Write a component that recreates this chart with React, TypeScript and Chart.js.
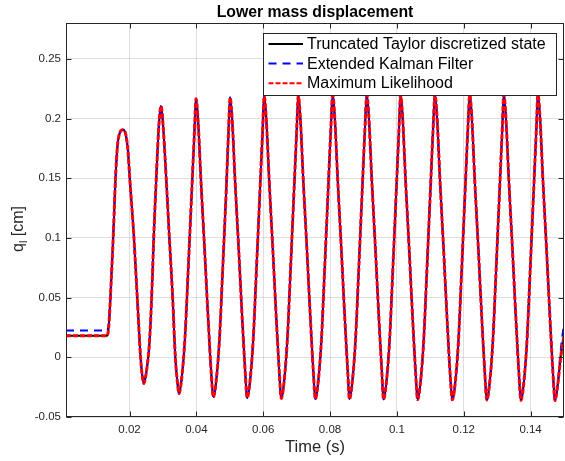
import React, { useEffect, useRef } from "react";
import { Chart, registerables } from "chart.js";

Chart.register(...registerables);

const FONT = "'Liberation Sans', Arial, Helvetica, sans-serif";

const chartTitle = "Lower mass displacement";
const xAxisTitle = "Time (s)";
const yAxisMain = "q";
const yAxisSub = "l";
const yAxisUnit = " [cm]";

const seriesLabels = [
  "Truncated Taylor discretized state",
  "Extended Kalman Filter",
  "Maximum Likelihood",
];

const xTicks = [0.02, 0.04, 0.06, 0.08, 0.1, 0.12, 0.14];
const xTickLabels = ["0.02", "0.04", "0.06", "0.08", "0.1", "0.12", "0.14"];
const yTicks = [-0.05, 0, 0.05, 0.1, 0.15, 0.2, 0.25];
const yTickLabels = ["-0.05", "0", "0.05", "0.1", "0.15", "0.2", "0.25"];

// time samples (s) and true state (cm)
const timeS = [
  0.001, 0.0133, 0.0136, 0.0139, 0.0143, 0.01514, 0.0158, 0.0164, 0.0171, 0.018, 0.0188, 0.0195, 0.0201, 0.0213, 0.0223, 0.0233, 0.0238, 0.0243,
  0.0248, 0.0253, 0.0258, 0.0263, 0.0268, 0.0273, 0.028, 0.0288, 0.02945,
  0.03, 0.031, 0.0319, 0.0329, 0.0337, 0.0343, 0.0348,
  0.0356, 0.0366, 0.0376, 0.0386, 0.0394, 0.0399,
  0.0405, 0.0414, 0.04245, 0.0435, 0.0444, 0.0451,
  0.0459, 0.0469, 0.0479, 0.0489, 0.0496, 0.0501,
  0.0507, 0.0516, 0.05265, 0.0537, 0.0546, 0.0552,
  0.056, 0.057, 0.058, 0.059, 0.0598, 0.0603,
  0.0609, 0.0618, 0.06285, 0.0639, 0.0648, 0.0654,
  0.0662, 0.0672, 0.0682, 0.0692, 0.07, 0.0705,
  0.0711, 0.072, 0.07305, 0.0741, 0.075, 0.0756,
  0.0764, 0.0774, 0.0784, 0.0794, 0.0802, 0.0808,
  0.0814, 0.0823, 0.08335, 0.0844, 0.0853, 0.0858,
  0.0866, 0.0876, 0.0886, 0.0896, 0.0904, 0.091,
  0.0916, 0.0925, 0.09355, 0.0946, 0.0955, 0.096,
  0.0968, 0.0978, 0.0988, 0.0998, 0.1006, 0.1011,
  0.1017, 0.1026, 0.10365, 0.1047, 0.1056, 0.1062,
  0.107, 0.108, 0.109, 0.11, 0.1108, 0.1114,
  0.112, 0.1129, 0.11395, 0.115, 0.1159, 0.1166,
  0.1174, 0.1184, 0.1194, 0.1204, 0.1212, 0.1218,
  0.1224, 0.1233, 0.12435, 0.1254, 0.1263, 0.1269,
  0.1277, 0.1287, 0.1297, 0.1307, 0.1315, 0.132,
  0.1326, 0.1335, 0.13455, 0.1356, 0.1365, 0.1371,
  0.1379, 0.1389, 0.1399, 0.1409, 0.1417, 0.1422,
  0.1428, 0.1437, 0.14475, 0.1458, 0.1467, 0.1473,
  0.1481, 0.1491, 0.15,
];

const truthCm = [
  0.018, 0.018, 0.021, 0.03, 0.051, 0.1015, 0.149, 0.177, 0.188, 0.1905, 0.1875, 0.174, 0.149, 0.1015, 0.051, 0.0005, -0.015, -0.0219,
  -0.0165, -0.007, 0.006, 0.029, 0.063, 0.104, 0.149, 0.195, 0.2105,
  0.196, 0.149, 0.1015, 0.051, 0.0005, -0.02, -0.0303,
  -0.018, 0.0166, 0.0758, 0.1375, 0.187, 0.2165,
  0.199, 0.1466, 0.0916, 0.0342, -0.0107, -0.0332,
  -0.0207, 0.0144, 0.0746, 0.1373, 0.1874, 0.2175,
  0.1999, 0.1471, 0.0918, 0.0339, -0.0114, -0.034,
  -0.0214, 0.014, 0.0746, 0.1377, 0.1882, 0.2185,
  0.2008, 0.1477, 0.092, 0.0338, -0.0117, -0.0345,
  -0.0218, 0.0137, 0.0745, 0.1379, 0.1886, 0.219,
  0.2012, 0.1479, 0.0921, 0.0337, -0.012, -0.0348,
  -0.022, 0.0135, 0.0745, 0.1381, 0.1889, 0.2194,
  0.2016, 0.1482, 0.0922, 0.0337, -0.0121, -0.035,
  -0.0223, 0.0134, 0.0744, 0.1381, 0.189, 0.2195,
  0.2017, 0.1482, 0.0922, 0.0336, -0.0123, -0.0352,
  -0.0225, 0.0132, 0.0744, 0.1381, 0.189, 0.2196,
  0.2018, 0.1482, 0.0921, 0.0335, -0.0125, -0.0354,
  -0.0226, 0.0131, 0.0743, 0.1381, 0.1891, 0.2197,
  0.2018, 0.1482, 0.0921, 0.0333, -0.0126, -0.0356,
  -0.0228, 0.0129, 0.0742, 0.1381, 0.1892, 0.2198,
  0.2019, 0.1482, 0.092, 0.0332, -0.0128, -0.0358,
  -0.023, 0.0128, 0.0741, 0.138, 0.1891, 0.2198,
  0.2019, 0.1482, 0.0919, 0.0331, -0.013, -0.036,
  -0.0232, 0.0126, 0.074, 0.138, 0.1892, 0.2199,
  0.202, 0.1482, 0.0919, 0.033, -0.0132, -0.0362,
  -0.0235, 0.002, 0.018,
];

// EKF estimate differs from the true state at the start and at the end
const ekfHeadT = [0.001, 0.0133, 0.0136];
const ekfHeadCm = [0.0225, 0.0225, 0.025];
const ekfTailT = [0.1491, 0.15];
const ekfTailCm = [0.008, 0.028];

type Pt = { x: number; y: number };

function toPoints(ts: number[], qs: number[]): Pt[] {
  return ts.map((t, i) => ({ x: t, y: qs[i] }));
}

const AXIS_COLOR = "#262626";
const GRID_COLOR = "rgba(38,38,38,0.15)";

const framePlugin = {
  id: "matlabFrame",
  afterDatasetsDraw(chart: any) {
    const { ctx, chartArea, scales } = chart;
    const { left, right, top, bottom } = chartArea;
    const xs = scales.x;
    const ys = scales.y;
    ctx.save();
    ctx.strokeStyle = AXIS_COLOR;
    ctx.lineWidth = 1;
    ctx.setLineDash([]);
    const L = Math.round(left) + 0.5;
    const R = Math.round(right) - 0.5;
    const T = Math.round(top) + 0.5;
    const B = Math.round(bottom) - 0.5;
    ctx.beginPath();
    xTicks.forEach((v) => {
      const px = Math.round(xs.getPixelForValue(v)) + 0.5;
      ctx.moveTo(px, B);
      ctx.lineTo(px, B - 5);
      ctx.moveTo(px, T);
      ctx.lineTo(px, T + 5);
    });
    yTicks.forEach((v) => {
      const py = Math.round(ys.getPixelForValue(v)) + 0.5;
      ctx.moveTo(L, py);
      ctx.lineTo(L + 5, py);
      ctx.moveTo(R, py);
      ctx.lineTo(R - 5, py);
    });
    ctx.stroke();
    ctx.strokeRect(L, T, R - L, B - T);
    ctx.restore();
  },
};

const textPlugin = {
  id: "matlabText",
  afterDraw(chart: any) {
    const { ctx, chartArea } = chart;
    const { left, right, top, bottom } = chartArea;
    ctx.save();
    // title
    ctx.fillStyle = "#000000";
    ctx.font = `bold 15.8px ${FONT}`;
    ctx.textAlign = "center";
    ctx.textBaseline = "middle";
    ctx.fillText(chartTitle, (left + right) / 2, top - 10.5);

    // y axis label with subscript
    const cx = 18;
    const cy = (top + bottom) / 2 + 9;
    ctx.translate(cx, cy);
    ctx.rotate(-Math.PI / 2);
    const mainFont = `16px ${FONT}`;
    const subFont = `11px ${FONT}`;
    ctx.font = mainFont;
    const wq = ctx.measureText(yAxisMain).width;
    const wu = ctx.measureText(yAxisUnit).width;
    ctx.font = subFont;
    const wl = ctx.measureText(yAxisSub).width;
    const total = wq + wl + wu;
    let x0 = -total / 2;
    ctx.textAlign = "left";
    ctx.textBaseline = "alphabetic";
    ctx.fillStyle = AXIS_COLOR;
    ctx.font = mainFont;
    ctx.fillText(yAxisMain, x0, 5);
    x0 += wq;
    ctx.font = subFont;
    ctx.fillText(yAxisSub, x0, 8.5);
    x0 += wl;
    ctx.font = mainFont;
    ctx.fillText(yAxisUnit, x0, 5);
    ctx.restore();

    // legend box
    ctx.save();
    const bw = 293;
    const bh = 62;
    const bx = Math.round(right) - 8 - bw + 0.5;
    const by = Math.round(top) + 10 + 0.5;
    ctx.fillStyle = "#ffffff";
    ctx.fillRect(bx, by, bw, bh);
    ctx.strokeStyle = AXIS_COLOR;
    ctx.lineWidth = 1;
    ctx.strokeRect(bx, by, bw, bh);
    chart.data.datasets.forEach((ds: any, i: number) => {
      const yy = by + 10.5 + i * 19.6;
      ctx.setLineDash(ds.borderDash || []);
      ctx.strokeStyle = ds.borderColor;
      ctx.lineWidth = 2;
      ctx.beginPath();
      ctx.moveTo(bx + 5, yy);
      ctx.lineTo(bx + 39.5, yy);
      ctx.stroke();
      ctx.setLineDash([]);
      ctx.fillStyle = "#000000";
      ctx.font = `16px ${FONT}`;
      ctx.textAlign = "left";
      ctx.textBaseline = "middle";
      ctx.fillText(ds.label, bx + 43.5, yy + 0.5);
    });
    ctx.restore();
  },
};

export default function App() {
  const canvasRef = useRef<HTMLCanvasElement | null>(null);

  useEffect(() => {
    const canvas = canvasRef.current;
    if (!canvas) return;
    Chart.defaults.font.family = FONT;

    const truthPts = toPoints(timeS, truthCm);
    const ekfPts = [
      ...toPoints(ekfHeadT, ekfHeadCm),
      ...toPoints(timeS.slice(3, -2), truthCm.slice(3, -2)),
      ...toPoints(ekfTailT, ekfTailCm),
    ];
    const mlPts = toPoints(timeS, truthCm);

    const chart = new Chart(canvas, {
      type: "line",
      data: {
        datasets: [
          {
            label: seriesLabels[0],
            data: truthPts,
            borderColor: "#000000",
            borderWidth: 2,
            pointRadius: 0,
            cubicInterpolationMode: "monotone",
            order: 3,
          },
          {
            label: seriesLabels[1],
            data: ekfPts,
            borderColor: "#0000ff",
            borderWidth: 2,
            borderDash: [8, 6],
            pointRadius: 0,
            cubicInterpolationMode: "monotone",
            order: 2,
          },
          {
            label: seriesLabels[2],
            data: mlPts,
            borderColor: "#ff0000",
            borderWidth: 3,
            borderDash: [5, 2],
            pointRadius: 0,
            cubicInterpolationMode: "monotone",
            order: 1,
          },
        ],
      } as any,
      options: {
        animation: false,
        responsive: false,
        maintainAspectRatio: false,
        devicePixelRatio: 1,
        layout: { padding: { top: 23, right: 1, left: 0, bottom: 0 } },
        plugins: {
          legend: { display: false },
          tooltip: { enabled: false },
          title: { display: false },
        },
        scales: {
          x: {
            type: "linear",
            min: 0.001,
            max: 0.15,
            afterBuildTicks: (s: any) => {
              s.ticks = xTicks.map((v) => ({ value: v }));
            },
            afterFit: (s: any) => {
              s.height = 44;
            },
            grid: { color: GRID_COLOR, drawTicks: false, lineWidth: 1 },
            border: { display: false },
            ticks: {
              padding: 6,
              color: AXIS_COLOR,
              font: { size: 11.5 },
              maxRotation: 0,
              autoSkip: false,
              callback: (_v: any, i: number) => xTickLabels[i],
            },
            title: {
              display: true,
              text: xAxisTitle,
              color: AXIS_COLOR,
              font: { size: 16.5 },
              padding: { top: 0, bottom: 4 },
            },
          },
          y: {
            type: "linear",
            min: -0.05,
            max: 0.28,
            afterBuildTicks: (s: any) => {
              s.ticks = yTicks.map((v) => ({ value: v }));
            },
            afterFit: (s: any) => {
              s.width = 66;
            },
            grid: { color: GRID_COLOR, drawTicks: false, lineWidth: 1 },
            border: { display: false },
            ticks: {
              padding: 5,
              color: AXIS_COLOR,
              font: { size: 11.5 },
              autoSkip: false,
              callback: (_v: any, i: number) => yTickLabels[i],
            },
          },
        },
      } as any,
      plugins: [framePlugin, textPlugin],
    });

    return () => {
      chart.destroy();
    };
  }, []);

  return (
    <div style={{ position: "fixed", left: 0, top: 0, width: 565, height: 461, background: "#ffffff" }}>
      <canvas ref={canvasRef} width={565} height={461} style={{ display: "block", width: 565, height: 461 }} />
    </div>
  );
}
